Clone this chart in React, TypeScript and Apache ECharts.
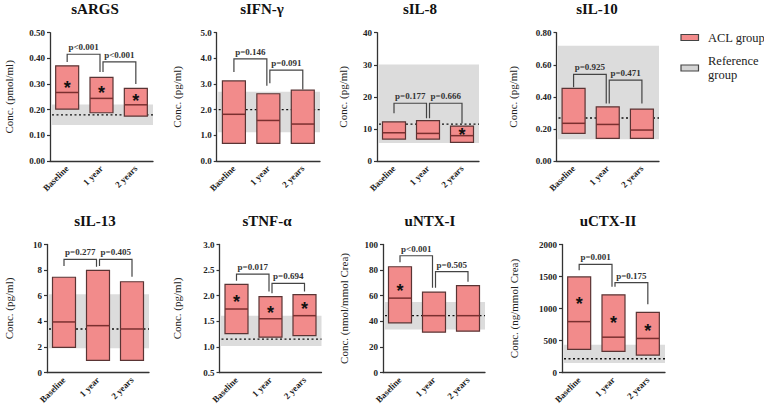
import React, { useEffect, useRef } from "react";
import * as echarts from "echarts";

const FONT = '"Liberation Serif", "Times New Roman", serif';

const categories = ["Baseline", "1 year", "2 years"];
const titles = ["sARGS", "sIFN-γ", "sIL-8", "sIL-10", "sIL-13", "sTNF-α", "uNTX-I", "uCTX-II"];
const yNames = [
  "Conc. (pmol/ml)", "Conc. (pg/ml)", "Conc. (pg/ml)", "Conc. (pg/ml)",
  "Conc. (pg/ml)", "Conc. (pg/ml)", "Conc. (nmol/mmol Crea)", "Conc. (ng/mmol Crea)",
];
// axis: [min, max, interval, decimals]
const axisSpecs = [
  [0, 0.5, 0.1, 2], [0, 5, 1, 1], [0, 40, 10, 0], [0, 0.8, 0.2, 2],
  [0, 10, 2, 0], [0.5, 3.0, 0.5, 1], [0, 100, 20, 0], [0, 2000, 500, 0],
];

// boxes: [low, median, high] per category
const sARGS = [[0.202, 0.267, 0.371], [0.188, 0.244, 0.326], [0.175, 0.219, 0.283]];
const sIFN = [[0.69, 1.82, 3.12], [0.69, 1.58, 2.62], [0.69, 1.44, 2.76]];
const sIL8 = [[6.8, 8.8, 12.2], [6.8, 8.6, 12.6], [5.8, 7.9, 10.9]];
const sIL10 = [[0.172, 0.235, 0.453], [0.141, 0.228, 0.338], [0.141, 0.193, 0.324]];
const sIL13 = [[1.97, 3.95, 7.44], [0.95, 3.66, 7.98], [0.95, 3.4, 7.09]];
const sTNF = [[1.26, 1.74, 2.22], [1.19, 1.55, 1.98], [1.22, 1.61, 2.02]];
const uNTX = [[38.8, 58.1, 82.6], [31.5, 44.4, 62.8], [32.3, 44.4, 67.9]];
const uCTX = [[361, 795, 1493], [330, 552, 1214], [273, 532, 940]];
const boxes = [sARGS, sIFN, sIL8, sIL10, sIL13, sTNF, uNTX, uCTX];

// reference group: [band low, reference line, band high]
const refs = [
  [0.14, 0.18, 0.22], [1.12, 2.0, 2.7], [5.6, 11.5, 30.1], [0.135, 0.268, 0.718],
  [1.89, 3.4, 6.11], [1.02, 1.15, 1.61], [33.5, 44.4, 55], [150, 215, 435],
];

// asterisk positions (null = none)
const stars = [
  [0.3, 0.28, 0.25], [null, null, null], [null, null, 9.3], [null, null, null],
  [null, null, null], [1.96, 1.74, 1.81], [67, null, null], [1126, 842, 707],
];

// brackets: [from, to, top, leg-from bottom, leg-to bottom]
const brackets = [
  [[0, 1, 0.416, 0.386, 0.347], [1, 2, 0.386, 0.347, 0.3]],
  [[0, 1, 3.98, 3.47, 2.93], [1, 2, 3.54, 3.03, 2.79]],
  [[0, 1, 18.0, 14.9, 13.3], [1, 2, 18.0, 13.3, 11.7]],
  [[0, 1, 0.54, 0.46, 0.359], [1, 2, 0.504, 0.359, 0.359]],
  [[0, 1, 8.84, 8.32, 8.27], [1, 2, 8.84, 8.32, 7.48]],
  [[0, 1, 2.42, 2.29, 2.08], [1, 2, 2.24, 2.05, 2.08]],
  [[0, 1, 91.2, 86.1, 66.3], [1, 2, 78.8, 66.3, 70.9]],
  [[0, 1, 1690, 1597, 1340], [1, 2, 1403, 1340, 1066]],
];
const pLabels = [
  ["p<0.001", "p<0.001"], ["p=0.146", "p=0.091"], ["p=0.177", "p=0.666"], ["p=0.925", "p=0.471"],
  ["p=0.277", "p=0.405"], ["p=0.017", "p=0.694"], ["p<0.001", "p=0.505"], ["p=0.001", "p=0.175"],
];

// layout
const gridRects = [
  [50, 32.7, 103, 128.3], [216.7, 32.7, 103.3, 128.3], [377, 32.7, 102, 128.3], [556.5, 32.7, 102.5, 128.3],
  [47, 244.5, 102, 128], [219.5, 244.5, 102, 128], [383, 244.5, 102, 128], [562, 244.5, 103, 128],
];
const nameGaps = [36, 34, 29, 38, 33, 37, 34, 43];
const titlePos = [
  [95, 9], [262, 9], [420, 9], [597, 9],
  [95, 221], [267, 221], [430, 221], [608, 221],
];

const BOX_FILL = "#F28B8B";
const BOX_STROKE = "#5a3434";
const MEDIAN = "#7a2f2f";
const BAND = "#DCDCDC";

export default function App() {
  const ref = useRef<HTMLDivElement>(null);
  useEffect(() => {
    if (!ref.current) return;
    const chart = echarts.init(ref.current, null, { renderer: "svg" });
    const grid: any[] = [];
    const xAxis: any[] = [];
    const yAxis: any[] = [];
    const series: any[] = [];
    const graphic: any[] = [];

    for (let p = 0; p < 8; p++) {
      const [l, t, w, h] = gridRects[p];
      grid.push({ left: l, top: t, width: w, height: h, containLabel: false, outerBoundsMode: "none" });
      const [mn, mx, iv, dec] = axisSpecs[p];
      xAxis.push({
        gridIndex: p,
        type: "category",
        data: categories,
        boundaryGap: true,
        axisLine: { lineStyle: { color: "#333", width: 1.3 } },
        axisTick: { alignWithLabel: true, length: 4, lineStyle: { color: "#333", width: 1.2 } },
        axisLabel: {
          rotate: 45, interval: 0, margin: 6, fontFamily: FONT, fontWeight: "bold",
          fontSize: 9, color: "#222",
        },
      });
      yAxis.push({
        gridIndex: p,
        type: "value",
        min: mn, max: mx, interval: iv,
        name: yNames[p],
        nameLocation: "middle",
        nameGap: nameGaps[p],
        nameTextStyle: { fontFamily: FONT, fontSize: 11, color: "#222" },
        axisLine: { show: true, lineStyle: { color: "#333", width: 1.3 } },
        axisTick: { show: true, length: 3, lineStyle: { color: "#333", width: 1.2 } },
        splitLine: { show: false },
        axisLabel: {
          margin: 5, fontFamily: FONT, fontWeight: "bold", fontSize: 9, color: "#222",
          formatter: (v: number) => v.toFixed(dec as number),
        },
      });

      const rf = refs[p];
      series.push({
        type: "custom",
        xAxisIndex: p, yAxisIndex: p, z: 1, silent: true,
        data: [[0, rf[0], rf[1], rf[2]]],
        encode: { x: 0, y: [1, 2, 3] },
        renderItem: (params: any, api: any) => {
          const cs = params.coordSys;
          const yLo = api.coord([0, api.value(1)])[1];
          const yLine = api.coord([0, api.value(2)])[1];
          const yHi = api.coord([0, api.value(3)])[1];
          return {
            type: "group",
            children: [
              { type: "rect", shape: { x: cs.x + 1.5, y: yHi, width: cs.width - 1.5, height: yLo - yHi }, style: { fill: BAND } },
              {
                type: "line", shape: { x1: cs.x + 2, y1: yLine, x2: cs.x + cs.width, y2: yLine },
                style: { stroke: "#111", lineWidth: 1.3, lineDash: [2, 2.5] },
              },
            ],
          };
        },
      });

      const bx = boxes[p];
      const st = stars[p];
      series.push({
        type: "custom",
        xAxisIndex: p, yAxisIndex: p, z: 2, silent: true,
        data: bx.map((b, i) => [i, b[0], b[1], b[2]]),
        encode: { x: 0, y: [1, 2, 3] },
        renderItem: (params: any, api: any) => {
          const i = api.value(0);
          const lo = api.coord([i, api.value(1)]);
          const md = api.coord([i, api.value(2)]);
          const hi = api.coord([i, api.value(3)]);
          const bw = 23;
          const children: any[] = [
            {
              type: "rect",
              shape: { x: lo[0] - bw / 2, y: hi[1], width: bw, height: lo[1] - hi[1] },
              style: { fill: BOX_FILL, stroke: BOX_STROKE, lineWidth: 1.2 },
            },
            {
              type: "line",
              shape: { x1: lo[0] - bw / 2, y1: md[1], x2: lo[0] + bw / 2, y2: md[1] },
              style: { stroke: MEDIAN, lineWidth: 1.5 },
            },
          ];
          const sv = st[params.dataIndex];
          if (sv != null) {
            const sp = api.coord([i, sv]);
            children.push({
              type: "text",
              x: sp[0], y: sp[1] + 4,
              style: {
                text: "*", font: 'bold 18px "Liberation Sans", Arial, sans-serif', fill: "#111",
                textAlign: "center", align: "center", textVerticalAlign: "middle", verticalAlign: "middle",
              },
            });
          }
          return { type: "group", children };
        },
      });

      const br = brackets[p];
      const pl = pLabels[p];
      series.push({
        type: "custom",
        xAxisIndex: p, yAxisIndex: p, z: 3, silent: true,
        data: br.map((b) => [b[0], b[1], b[2], b[3], b[4]]),
        encode: { x: [0, 1], y: [2, 3, 4] },
        renderItem: (params: any, api: any) => {
          const f = api.value(0);
          const tIdx = api.value(1);
          const top = api.value(2);
          const a = api.coord([f, top]);
          const b = api.coord([tIdx, top]);
          const aLeg = api.coord([f, api.value(3)]);
          const bLeg = api.coord([tIdx, api.value(4)]);
          const xa = a[0] + (f === 1 ? 1.5 : 0);
          const xb = b[0] - (tIdx === 1 ? 1.5 : 0);
          return {
            type: "group",
            children: [
              {
                type: "polyline",
                shape: { points: [[xa, aLeg[1]], [xa, a[1]], [xb, a[1]], [xb, bLeg[1]]] },
                style: { stroke: "#444", lineWidth: 1.2, fill: "none" },
              },
              {
                type: "text",
                x: (xa + xb) / 2, y: a[1] - 2.5,
                style: {
                  text: pl[params.dataIndex], font: `bold 9px ${FONT}`, fill: "#333",
                  textAlign: "center", align: "center", textVerticalAlign: "bottom", verticalAlign: "bottom",
                },
              },
            ],
          };
        },
      });

      graphic.push({
        type: "text",
        x: titlePos[p][0], y: titlePos[p][1],
        style: {
          text: titles[p], font: `bold 15px ${FONT}`, fill: "#111",
          textAlign: "center", align: "center", textVerticalAlign: "middle", verticalAlign: "middle",
        },
      });
    }

    // legend
    graphic.push(
      { type: "rect", shape: { x: 681, y: 34.5, width: 17.5, height: 6 }, style: { fill: BOX_FILL, stroke: "#444", lineWidth: 1.2 } },
      { type: "rect", shape: { x: 681, y: 65, width: 17.5, height: 6 }, style: { fill: "#D4D4D4", stroke: "#444", lineWidth: 1.2 } },
      {
        type: "text", x: 708, y: 37.5,
        style: { text: "ACL group", font: `12.5px ${FONT}`, fill: "#222", textVerticalAlign: "middle", verticalAlign: "middle" },
      },
      {
        type: "text", x: 708, y: 61,
        style: { text: "Reference", font: `12.5px ${FONT}`, fill: "#222", textVerticalAlign: "middle", verticalAlign: "middle" },
      },
      {
        type: "text", x: 708, y: 74.5,
        style: { text: "group", font: `12.5px ${FONT}`, fill: "#222", textVerticalAlign: "middle", verticalAlign: "middle" },
      }
    );

    chart.setOption({
      animation: false,
      backgroundColor: "#fff",
      grid, xAxis, yAxis, series, graphic,
    });
    return () => chart.dispose();
  }, []);
  return (
    <div
      ref={ref}
      style={{ position: "fixed", left: 0, top: 0, width: 764, height: 411 }}
    />
  );
}
